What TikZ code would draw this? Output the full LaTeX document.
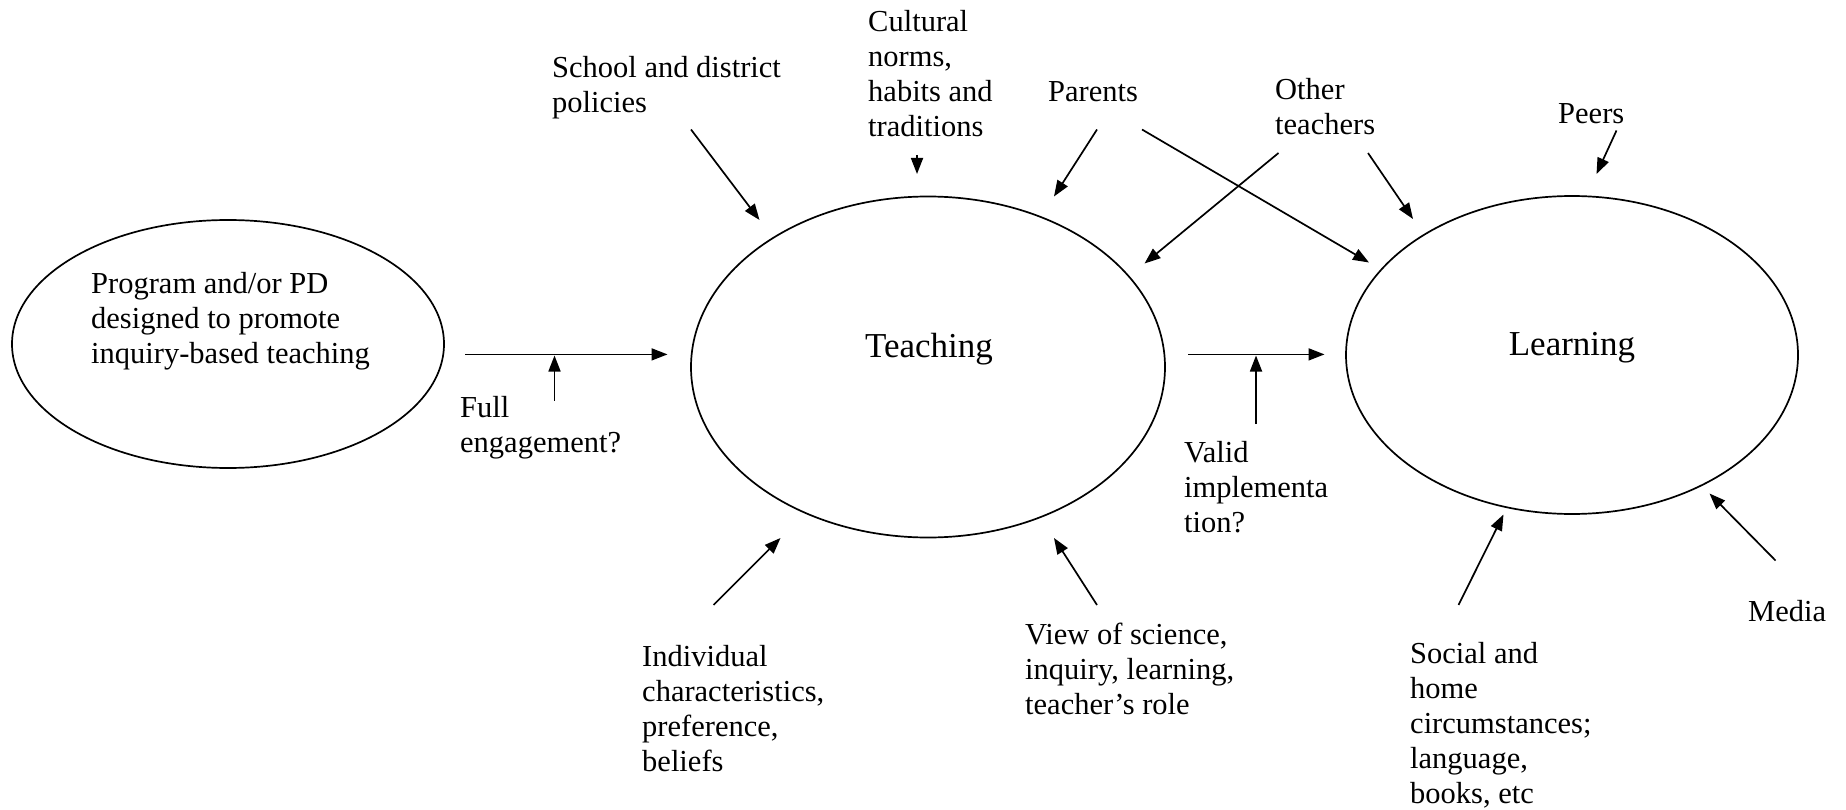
\documentclass[tikz,border=0pt]{standalone}
\usepackage{fontspec}
\setmainfont{Liberation Serif}
\usetikzlibrary{arrows.meta,shapes.geometric}
\begin{document}
\begin{tikzpicture}[x=1pt,y=-1pt,
  lbl/.style={inner sep=0pt, anchor=base west, align=left, font=\fontsize{30.5}{35}\selectfont},
  big/.style={inner sep=0pt, anchor=base, font=\fontsize{35}{40}\selectfont},
  arr/.style={-{Triangle[length=16pt,width=12pt]}, line width=1.7pt},
  oval/.style={draw, ellipse, line width=1.7pt, inner sep=0pt}]
\useasboundingbox (0,0) rectangle (1846,810);

% ellipses
\node[oval, minimum width=432pt, minimum height=248pt] (prog) at (228,344) {};
\node[oval, minimum width=474pt, minimum height=341pt] (teach) at (928,367) {};
\node[oval, minimum width=452pt, minimum height=318pt] (learn) at (1572,355) {};

% texts inside (base anchor = baseline of the last line)
\node[lbl] (progtxt) at (91,363) {Program and/or PD\\designed to promote\\inquiry-based teaching};
\node[big] (teachtxt) at (929,357) {Teaching};
\node[big] (learntxt) at (1572,355) {Learning};

% labels
\node[lbl] (full) at (460,452) {Full\\engagement?};
\node[lbl] (valid) at (1184,532) {Valid\\implementa\\tion?};
\node[lbl] (school) at (552,113) {School and district\\policies};
\node[lbl] (cult) at (868,137) {Cultural\\norms,\\habits and\\traditions};
\node[lbl] (parents) at (1048,102) {Parents};
\node[lbl] (other) at (1275,135) {Other\\teachers};
\node[lbl] (peers) at (1558,124) {Peers};
\node[lbl] (indiv) at (642,771) {Individual\\characteristics,\\preference,\\beliefs};
\node[lbl] (view) at (1025,714) {View of science,\\inquiry, learning,\\teacher’s role};
\node[lbl] (social) at (1410,803) {Social and\\home\\circumstances;\\language,\\books, etc};
\node[lbl] (media) at (1748,621) {Media};

% connector end points
\coordinate (a1s) at (465,354.4);
\coordinate (a1e) at (667.5,354.4);
\coordinate (f1s) at (554.5,400.5);
\coordinate (f1e) at (554.5,355.5);
\coordinate (a2s) at (1188,354.4);
\coordinate (a2e) at (1324.5,354.4);
\coordinate (v1s) at (1256,424);
\coordinate (v1e) at (1256,355.5);
\coordinate (scs) at (691,129.5);
\coordinate (sce) at (759.5,220);
\coordinate (cus) at (917,155);
\coordinate (cue) at (917,174);
\coordinate (pas) at (1097,129.5);
\coordinate (pae) at (1054,196.5);
\coordinate (pls) at (1142,129.5);
\coordinate (ple) at (1369,262.5);
\coordinate (ots) at (1278.5,153);
\coordinate (ote) at (1144.5,263.5);
\coordinate (ols) at (1368,153);
\coordinate (ole) at (1413,219);
\coordinate (pes) at (1616.5,130.5);
\coordinate (pee) at (1596.5,174);
\coordinate (ins) at (713.5,605);
\coordinate (ine) at (780.5,538);
\coordinate (vis) at (1097,605);
\coordinate (vie) at (1054,538);
\coordinate (sos) at (1458.5,605);
\coordinate (soe) at (1503.5,514.5);
\coordinate (mes) at (1775.5,560.5);
\coordinate (mee) at (1709.5,493.5);

% connectors
\draw[arr] (a1s) -- (a1e);
\draw[arr] (f1s) -- (f1e);
\draw[arr] (a2s) -- (a2e);
\draw[arr] (v1s) -- (v1e);
\draw[arr] (scs) -- (sce);
\draw[arr] (cus) -- (cue);
\draw[arr] (pas) -- (pae);
\draw[arr] (pls) -- (ple);
\draw[arr] (ots) -- (ote);
\draw[arr] (ols) -- (ole);
\draw[arr] (pes) -- (pee);
\draw[arr] (ins) -- (ine);
\draw[arr] (vis) -- (vie);
\draw[arr] (sos) -- (soe);
\draw[arr] (mes) -- (mee);
\end{tikzpicture}
\end{document}
